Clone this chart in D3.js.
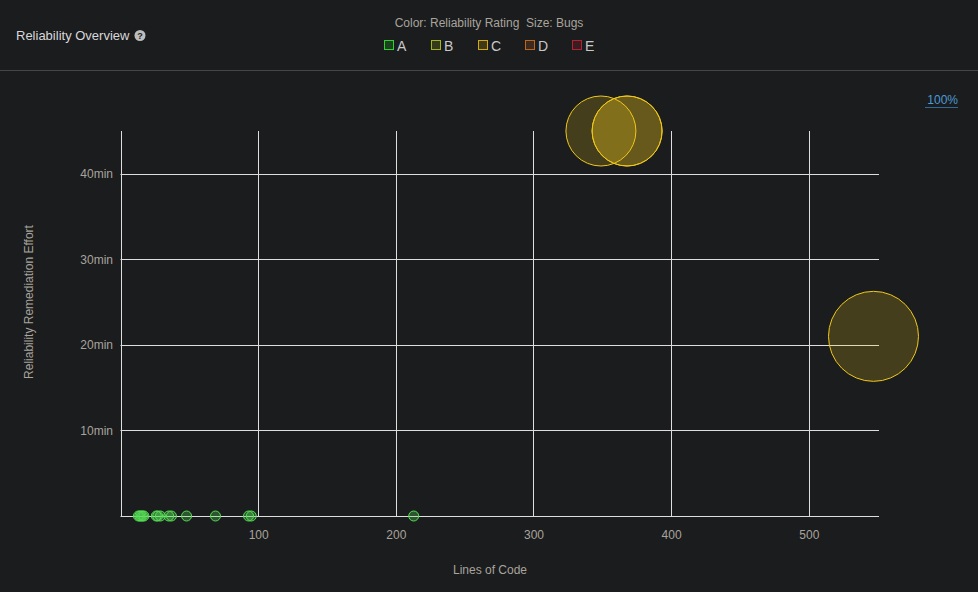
<!DOCTYPE html>
<html>
<head>
<meta charset="utf-8">
<script src="https://cdn.jsdelivr.net/npm/d3@7"></script>
<style>
  body { margin: 0; background: #1b1c1e; font-family: "Liberation Sans", Arial, sans-serif; }
  svg { display: block; }
</style>
</head>
<body>
<div id="chart"></div>
<script>
// files: lines of code, remediation effort (min), bugs, reliability rating
var loc     = [13, 14, 15, 16, 17, 26, 27, 29, 35, 37, 48, 69, 93, 95, 213, 547, 349, 368, 368];
var effort  = [0, 0, 0, 0, 0, 0, 0, 0, 0, 0, 0, 0, 0, 0, 0, 21, 45, 45, 45];
var bugs    = [0, 0, 0, 0, 0, 0, 0, 0, 0, 0, 0, 0, 0, 0, 0, 4, 3, 3, 3];
var rating  = ["A", "A", "A", "A", "A", "A", "A", "A", "A", "A", "A", "A", "A", "A", "A", "C", "C", "C", "C"];

var ratings = ["A", "B", "C", "D", "E"];
var ratingColors = ["#2ed42e", "#a3b818", "#d4aa0a", "#c0661a", "#b32230"];
var bubbleStroke = { A: "#55dd55", C: "#f0c81a" };
var bubbleOpacity = { A: 0.3, C: 0.2 };

var xTicks = [100, 200, 300, 400, 500];
var yTicks = [10, 20, 30, 40];

var width = 978, height = 592;

var svg = d3.select("#chart").append("svg")
    .attr("width", width)
    .attr("height", height);

// header
svg.append("text")
    .attr("x", 16).attr("y", 40)
    .attr("fill", "#d8d8d8")
    .style("font-size", "13px")
    .text("Reliability Overview");

svg.append("circle")
    .attr("cx", 140).attr("cy", 35.5).attr("r", 5.5)
    .attr("fill", "#bdbdbd");
svg.append("text")
    .attr("x", 140).attr("y", 39)
    .attr("text-anchor", "middle")
    .attr("fill", "#1b1c1e")
    .style("font-size", "9px").style("font-weight", "bold")
    .text("?");

svg.append("text")
    .attr("x", 489).attr("y", 27)
    .attr("text-anchor", "middle")
    .attr("fill", "#a8a49c")
    .style("font-size", "12px")
    .text("Color: Reliability Rating\u00a0\u00a0Size: Bugs");

var legend = svg.selectAll(".legend")
    .data(ratings)
    .enter().append("g")
    .attr("class", "legend")
    .attr("transform", function(d, i) { return "translate(" + (384 + i * 47) + ",40)"; });

legend.append("rect")
    .attr("x", 0.5).attr("y", 0.5)
    .attr("width", 9).attr("height", 9)
    .attr("fill", function(d, i) { return ratingColors[i]; })
    .attr("fill-opacity", 0.2)
    .attr("stroke", function(d, i) { return ratingColors[i]; });

legend.append("text")
    .attr("x", 13).attr("y", 10.5)
    .attr("fill", "#c8c8c8")
    .style("font-size", "14px")
    .text(function(d) { return d; });

svg.append("line")
    .attr("x1", 0).attr("x2", width)
    .attr("y1", 70.5).attr("y2", 70.5)
    .attr("stroke", "#45464a");

// zoom link
svg.append("text")
    .attr("x", 958).attr("y", 104)
    .attr("text-anchor", "end")
    .attr("fill", "#4d9bd4")
    .style("font-size", "12px")
    .text("100%");
svg.append("line")
    .attr("x1", 925).attr("x2", 958)
    .attr("y1", 107.5).attr("y2", 107.5)
    .attr("stroke", "#2f6a96");

// scales
var x = d3.scaleLinear().domain([0, 551]).range([120.5, 879]);
var y = d3.scaleLinear().domain([0, 45]).range([516, 131]);
var r = d3.scaleLinear().domain([0, 4]).range([5, 45]);

var grid = svg.append("g");

grid.selectAll(".vgrid")
    .data([0].concat(xTicks))
    .enter().append("line")
    .attr("x1", function(d) { return Math.round(x(d)) + 0.5; })
    .attr("x2", function(d) { return Math.round(x(d)) + 0.5; })
    .attr("y1", y(45)).attr("y2", y(0))
    .attr("stroke", "#dedede");

grid.selectAll(".hgrid")
    .data([0].concat(yTicks))
    .enter().append("line")
    .attr("x1", x(0)).attr("x2", x(551))
    .attr("y1", function(d) { return Math.round(y(d)) + 0.5; })
    .attr("y2", function(d) { return Math.round(y(d)) + 0.5; })
    .attr("stroke", "#dedede");

// axes (labels only, lines drawn as grid)
var xAxis = svg.append("g")
    .attr("transform", "translate(0,516)")
    .call(d3.axisBottom(x).tickValues(xTicks).tickSize(0).tickPadding(14));
var yAxis = svg.append("g")
    .attr("transform", "translate(120,0)")
    .call(d3.axisLeft(y).tickValues(yTicks).tickSize(0).tickPadding(7)
        .tickFormat(function(d) { return d + "min"; }));

[xAxis, yAxis].forEach(function(a) {
    a.select(".domain").remove();
    a.selectAll("text")
        .attr("fill", "#a8a49c")
        .style("font-size", "12px")
        .style("font-family", "'Liberation Sans', Arial, sans-serif");
});

svg.append("text")
    .attr("x", 490).attr("y", 574)
    .attr("text-anchor", "middle")
    .attr("fill", "#a8a49c")
    .style("font-size", "12px")
    .text("Lines of Code");

svg.append("text")
    .attr("transform", "translate(33,302) rotate(-90)")
    .attr("text-anchor", "middle")
    .attr("fill", "#a8a49c")
    .style("font-size", "12px")
    .text("Reliability Remediation Effort");

// bubbles
var points = loc.map(function(d, i) {
    return { loc: d, effort: effort[i], bugs: bugs[i], rating: rating[i] };
});

svg.append("g").selectAll("circle")
    .data(points)
    .enter().append("circle")
    .attr("cx", function(d) { return x(d.loc); })
    .attr("cy", function(d) { return y(d.effort); })
    .attr("r", function(d) { return r(d.bugs); })
    .attr("fill", function(d) { return bubbleStroke[d.rating]; })
    .attr("fill-opacity", function(d) { return bubbleOpacity[d.rating]; })
    .attr("stroke", function(d) { return bubbleStroke[d.rating]; })
    .attr("stroke-width", 1);
</script>
</body>
</html>
